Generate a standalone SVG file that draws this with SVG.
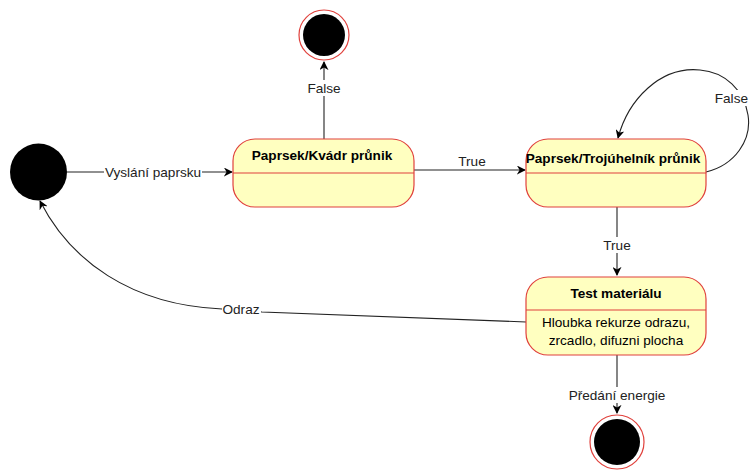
<svg xmlns="http://www.w3.org/2000/svg" width="750" height="471" viewBox="0 0 750 471">
<defs>
<marker id="arr" viewBox="0 0 10 10" refX="9" refY="5" markerWidth="9" markerHeight="9" markerUnits="userSpaceOnUse" orient="auto">
<path d="M0,0 L10,5 L0,10 L3,5 Z" fill="#000"/>
</marker>
<style>
.st{fill:#ffffc0;stroke:#e0413c;stroke-width:1.2}
.div{stroke:#e0413c;stroke-width:1.2}
.t{font-family:"Liberation Sans",Arial,sans-serif;font-size:13.6px;fill:#000}
.b{font-weight:bold}
.lbl{font-family:"Liberation Sans",Arial,sans-serif;font-size:13.6px;fill:#222}
.e{fill:none;stroke:#222;stroke-width:1.1}
.bg{fill:#fff}
</style>
</defs>
<rect width="750" height="471" fill="#fff"/>
<g id="connectors">
<path class="e" d="M67,172 L232,172" marker-end="url(#arr)"/>
<rect class="bg" x="104" y="164" width="98" height="16"/>
<text class="lbl" x="153" y="177" text-anchor="middle">Vyslání paprsku</text>
<path class="e" d="M324,139 L324,62" marker-end="url(#arr)"/>
<rect class="bg" x="306" y="80" width="36" height="16"/>
<text class="lbl" x="324" y="93" text-anchor="middle">False</text>
<path class="e" d="M414,170 L525,170" marker-end="url(#arr)"/>
<rect class="bg" x="457" y="153" width="31" height="16"/>
<text class="lbl" x="472" y="166" text-anchor="middle">True</text>
<path class="e" d="M706,172 C735,165 752,140 748,115 C744,90 725,72 700,70 C660,66 628,100 618,138" marker-end="url(#arr)"/>
<rect class="bg" x="714" y="90" width="36" height="16"/>
<text class="lbl" x="748" y="103" text-anchor="end">False</text>
<path class="e" d="M617,207 L617,275" marker-end="url(#arr)"/>
<rect class="bg" x="600" y="237" width="34" height="16"/>
<text class="lbl" x="617" y="250" text-anchor="middle">True</text>
<path class="e" d="M617,355 L617,413" marker-end="url(#arr)"/>
<rect class="bg" x="567" y="387" width="100" height="16"/>
<text class="lbl" x="617" y="400" text-anchor="middle">Předání energie</text>
<path class="e" d="M526,322 L262,312 C248,311 236,310 222,309 C130,305 70,260 40,201" marker-end="url(#arr)"/>
<rect class="bg" x="222" y="301" width="39" height="16"/>
<text class="lbl" x="241" y="314" text-anchor="middle">Odraz</text>
</g>
<g id="initial">
<circle cx="38.5" cy="172" r="28.5" fill="#000"/>
</g>
<g id="final-top">
<circle cx="324" cy="35" r="25" fill="#fff" stroke="#e0413c" stroke-width="1.2"/>
<circle cx="324" cy="35" r="21" fill="#000"/>
</g>
<g id="box-kvadr">
<rect class="st" x="233" y="139" width="181" height="68" rx="22" ry="22"/>
<line class="div" x1="233" y1="173" x2="414" y2="173"/>
<text class="t b" x="322" y="160" text-anchor="middle">Paprsek/Kvádr průnik</text>
</g>
<g id="box-trojuhelnik">
<rect class="st" x="526" y="139" width="180" height="68" rx="22" ry="22"/>
<line class="div" x1="526" y1="173" x2="706" y2="173"/>
<text class="t b" x="613" y="163" text-anchor="middle">Paprsek/Trojúhelník průnik</text>
</g>
<g id="box-material">
<rect class="st" x="526" y="277" width="180" height="78" rx="22" ry="22"/>
<line class="div" x1="526" y1="310" x2="706" y2="310"/>
<text class="t b" x="616" y="298" text-anchor="middle">Test materiálu</text>
<text class="t" x="616" y="327" text-anchor="middle">Hloubka rekurze odrazu,</text>
<text class="t" x="616" y="345" text-anchor="middle">zrcadlo, difuzni plocha</text>
</g>
<g id="final-bottom">
<circle cx="617" cy="442" r="27" fill="#fff" stroke="#e0413c" stroke-width="1.2"/>
<circle cx="617" cy="442" r="23" fill="#000"/>
</g>
</svg>
